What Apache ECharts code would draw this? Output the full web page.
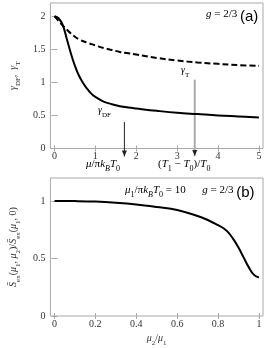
<!DOCTYPE html>
<html><head><meta charset="utf-8">
<script src="https://cdn.jsdelivr.net/npm/echarts@6/dist/echarts.min.js"></script>
<style>html,body{margin:0;padding:0;background:#fff}#c{width:265px;height:348px}</style>
</head><body><div id="c"></div>
<script>
// ---- data ----
const muTop = [0,0.1,0.2,0.3,0.4,0.5,0.6,0.7,0.8,0.9,1,1.2,1.4,1.6,1.8,2,2.5,3,3.5,4,4.5,5];
const gammaDF = [2.0,1.97,1.87,1.66,1.44,1.25,1.1,0.99,0.9,0.83,0.78,0.71,0.67,0.64,0.62,0.605,0.57,0.54,0.52,0.5,0.485,0.47];
const tTop = [0,0.1,0.2,0.3,0.4,0.5,0.6,0.8,1,1.2,1.4,1.6,1.8,2,2.5,3,3.5,4,4.5,5];
const gammaT = [2.0,1.93,1.86,1.8,1.74,1.69,1.65,1.6,1.56,1.52,1.49,1.46,1.44,1.42,1.37,1.33,1.3,1.28,1.26,1.25];
const muRatio = [0,0.1,0.2,0.3,0.4,0.5,0.6,0.7,0.75,0.8,0.825,0.85,0.875,0.9,0.925,0.95,0.975,1];
const sRatio = [1.0,0.999,0.995,0.985,0.97,0.948,0.922,0.87,0.835,0.79,0.765,0.727,0.668,0.595,0.51,0.425,0.36,0.335];
const xTicksTop = [0,1,2,3,4,5];
const yTicksTop = [0,0.5,1,1.5,2];
const xTicksBot = [0,0.2,0.4,0.6,0.8,1];
const yTicksBot = [0,0.5,1];
const arrowDF = [[1.71,0.40],[1.71,-0.12]];
const arrowT = [[3.43,1.04],[3.43,-0.115]];

const zip = (a,b) => a.map((v,i)=>[v,b[i]]);
const AX = '#a8a8a8';
const FONT = 'Liberation Serif';
function mkRich(fs){
  return {
    n:{fontFamily:FONT,fontStyle:'italic',fontSize:fs,color:'#333',lineHeight:14,verticalAlign:'top'},
    r:{fontFamily:FONT,fontSize:fs,color:'#333',lineHeight:14,verticalAlign:'top'},
    s:{fontFamily:FONT,fontSize:fs-3,color:'#333',lineHeight:14,verticalAlign:'bottom'},
    si:{fontFamily:FONT,fontStyle:'italic',fontSize:fs-3,color:'#333',lineHeight:14,verticalAlign:'bottom'},
    sans:{fontFamily:'Liberation Sans',fontSize:fs+4,color:'#111',lineHeight:14,verticalAlign:'top'}
  };
}
const rich = mkRich(10);
const rich11 = mkRich(11);
function xAx(grid, min, max, ticks, show, name){
  return {type:'value', gridIndex:grid, min, max, position: show?'bottom':'top',
    axisLine:{show:false}, splitLine:{show:false},
    axisTick:{show:true, inside:true, length:3, lineStyle:{color:AX}, customValues:ticks},
    axisLabel:{show:show, customValues:ticks, margin:3, fontFamily:FONT, fontSize:10, color:'#333',
      formatter:v=>String(+v.toFixed(2))},
    name: name||'', nameLocation:'middle', nameGap:17,
    nameTextStyle:{rich}};
}
function yAx(grid, min, max, ticks, show, name){
  return {type:'value', gridIndex:grid, min, max, position: show?'left':'right',
    axisLine:{show:false}, splitLine:{show:false},
    axisTick:{show:true, inside:true, length:3, lineStyle:{color:AX}, customValues:ticks},
    axisLabel:{show:show, customValues:ticks, margin:5, fontFamily:FONT, fontSize:10, color:'#333',
      formatter:v=>String(+v.toFixed(2))},
    name: name||'', nameLocation:'middle', nameGap:16, nameRotate:90,
    nameTextStyle:{rich}};
}
function arrowData(pts){
  return pts.map((p,i)=> i===pts.length-1
    ? {value:p, symbol:'triangle', symbolSize:[5,6], symbolRotate:180, symbolOffset:[0,-3]}
    : {value:p, symbol:'none'});
}
const chart = echarts.init(document.getElementById('c'), null, {renderer:'canvas'});
chart.setOption({
  animation:false,
  grid:[
    {left:29, right:2, top:3, height:145.5, show:true, borderColor:AX, borderWidth:1, backgroundColor:'transparent'},
    {left:29, right:2, top:178, height:146, show:true, borderColor:AX, borderWidth:1, backgroundColor:'transparent'}
  ],
  xAxis:[
    xAx(0,-0.1,5.1,xTicksTop,true),
    xAx(0,-0.1,5.1,xTicksTop,false),
    xAx(1,-0.02,1.02,xTicksBot,true,'{n|μ}{s|2}{r|/}{n|μ}{s|1}'),
    xAx(1,-0.02,1.02,xTicksBot,false)
  ],
  yAxis:[
    yAx(0,0,2.2,yTicksTop,true,'{n|γ}{s|DF}{r|,  }{n|γ}{s|T}'),
    yAx(0,0,2.2,yTicksTop,false),
    yAx(1,0,1.2,yTicksBot,true,'{n|S̄}{s|ex}{r|(}{n|μ}{s|1}{r|, }{n|μ}{s|2}{r|)/}{n|S̄}{s|ex}{r|(}{n|μ}{s|1}{r|, 0)}'),
    yAx(1,0,1.2,yTicksBot,false)
  ],
  series:[
    {type:'line', xAxisIndex:0, yAxisIndex:0, data:zip(muTop,gammaDF), smooth:0.4, showSymbol:false,
      lineStyle:{color:'#000', width:2}},
    {type:'line', xAxisIndex:0, yAxisIndex:0, data:zip(tTop,gammaT), smooth:0.4, showSymbol:false,
      lineStyle:{color:'#000', width:2, type:[6,3]}},
    {type:'line', xAxisIndex:0, yAxisIndex:0, data:arrowData(arrowDF), showSymbol:true, showAllSymbol:true, clip:false, z:3,
      lineStyle:{color:'#222', width:1}, itemStyle:{color:'#222'}},
    {type:'line', xAxisIndex:0, yAxisIndex:0, data:arrowData(arrowT), showSymbol:true, showAllSymbol:true, clip:false, z:1,
      lineStyle:{color:'#aaa', width:2}, itemStyle:{color:'#222'}},
    {type:'line', xAxisIndex:2, yAxisIndex:2, data:zip(muRatio,sRatio), smooth:0.4, showSymbol:false,
      lineStyle:{color:'#000', width:2}}
  ],
  graphic:[
    {type:'text', left:206, top:9, style:{text:'{n|g}{r| = 2/3 }{sans|(a)}', rich:rich11}},
    {type:'text', left:98, top:105, style:{text:'{n|γ}{s|DF}', rich}},
    {type:'text', left:181, top:65, style:{text:'{n|γ}{s|T}', rich}},
    {type:'text', left:86, top:159, style:{text:'{n|μ}{r|/π}{n|k}{si|B}{n|T}{s|0}', rich:rich11}},
    {type:'text', left:158, top:159, style:{text:'{r|(}{n|T}{s|1}{r| − }{n|T}{s|0}{r|)/}{n|T}{s|0}', rich:rich11}},
    {type:'text', left:125, top:185, style:{text:'{n|μ}{s|1}{r|/π}{n|k}{si|B}{n|T}{s|0}{r| = 10      }{n|g}{r| = 2/3 }{sans|(b)}', rich:rich11}}
  ]
});
</script></body></html>
